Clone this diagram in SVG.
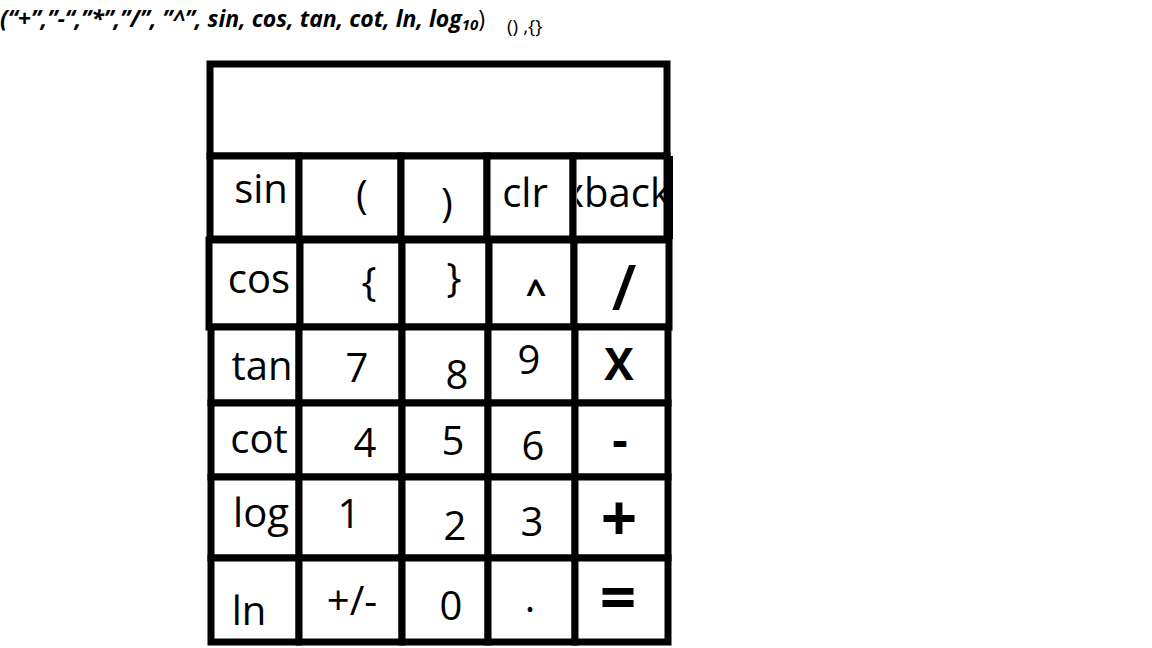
<svg xmlns="http://www.w3.org/2000/svg" width="1152" height="648" viewBox="0 0 1152 648">
<style>
.cell{fill:#fff;stroke:#000;stroke-width:7;stroke-linejoin:miter}
.t{font-family:"Open Sans","Liberation Sans",sans-serif;font-size:40px;fill:#000;text-anchor:middle}
.op{font-weight:bold}
.hdr{font-family:"Open Sans","Liberation Sans",sans-serif;fill:#000}
</style>
<defs>
<clipPath id="clipBack"><rect x="577" y="160" width="96" height="76"/></clipPath>
</defs>
<rect x="0" y="0" width="1152" height="648" fill="#fff"/>
<g id="header">
<text class="hdr" x="0" y="27" font-size="23" font-weight="bold" font-style="italic">(“+”,”-“,”*”,”/”, ”^”, sin, cos, tan, cot, ln, log<tspan font-size="15" dy="3">10</tspan><tspan dy="-3" font-style="normal" font-weight="normal">)</tspan></text>
<text class="hdr" x="507" y="33" font-size="19">() ,{}</text>
</g>
<g id="display"><rect class="cell" x="210" y="64" width="457" height="92"/></g>
<g id="connectors"></g>
<g id="btn-sin"><rect class="cell" x="210" y="156" width="89" height="83"/><text class="t" x="261" y="203">sin</text></g>
<g id="btn-lparen"><rect class="cell" x="299" y="156" width="102" height="83"/><text class="t" x="362" y="209">(</text></g>
<g id="btn-rparen"><rect class="cell" x="401" y="156" width="86" height="83"/><text class="t" x="447" y="217">)</text></g>
<g id="btn-clr"><rect class="cell" x="487" y="156" width="86" height="83"/><text class="t" x="525" y="207">clr</text></g>
<g id="btn-back"><rect class="cell" x="573" y="156" width="94" height="83"/><text class="t" x="617" y="207" clip-path="url(#clipBack)">xback</text><line x1="670" y1="156" x2="670" y2="239" stroke="#000" stroke-width="6"/></g>

<g id="btn-cos"><rect class="cell" x="209" y="240" width="91" height="87"/><text class="t" x="259" y="293">cos</text></g>
<g id="btn-lbrace"><rect class="cell" x="300" y="240" width="102" height="87"/><text class="t" x="369" y="296">{</text></g>
<g id="btn-rbrace"><rect class="cell" x="402" y="240" width="87" height="87"/><text class="t" x="454" y="292">}</text></g>
<g id="btn-pow"><rect class="cell" x="489" y="240" width="85" height="87"/><text class="t op" x="536" y="305" style="font-size:36px">^</text></g>
<g id="btn-div"><rect class="cell" x="574" y="240" width="95" height="87"/><text class="t" x="624" y="310" style="font-size:63px;font-weight:600">/</text></g>

<g id="btn-tan"><rect class="cell" x="211" y="327" width="88" height="76"/><text class="t" x="262" y="380">tan</text></g>
<g id="btn-7"><rect class="cell" x="299" y="327" width="103" height="76"/><text class="t" x="357" y="382">7</text></g>
<g id="btn-8"><rect class="cell" x="402" y="327" width="86" height="76"/><text class="t" x="457" y="389">8</text></g>
<g id="btn-9"><rect class="cell" x="488" y="327" width="87" height="76"/><text class="t" x="529" y="374">9</text></g>
<g id="btn-mul"><rect class="cell" x="575" y="327" width="93" height="76"/><text class="t op" x="619" y="380" style="font-size:44px">X</text></g>

<g id="btn-cot"><rect class="cell" x="211" y="403" width="88" height="74"/><text class="t" x="259" y="453">cot</text></g>
<g id="btn-4"><rect class="cell" x="299" y="403" width="103" height="74"/><text class="t" x="365" y="457">4</text></g>
<g id="btn-5"><rect class="cell" x="402" y="403" width="86" height="74"/><text class="t" x="453" y="455">5</text></g>
<g id="btn-6"><rect class="cell" x="488" y="403" width="87" height="74"/><text class="t" x="533" y="460">6</text></g>
<g id="btn-sub"><rect class="cell" x="575" y="403" width="93" height="74"/><text class="t op" x="620" y="457" style="font-size:48px">-</text></g>

<g id="btn-log"><rect class="cell" x="211" y="477" width="88" height="81"/><text class="t" x="261" y="527">log</text></g>
<g id="btn-1"><rect class="cell" x="299" y="477" width="103" height="81"/><text class="t" x="349" y="528">1</text></g>
<g id="btn-2"><rect class="cell" x="402" y="477" width="86" height="81"/><text class="t" x="455" y="540">2</text></g>
<g id="btn-3"><rect class="cell" x="488" y="477" width="87" height="81"/><text class="t" x="532" y="536">3</text></g>
<g id="btn-add"><rect class="cell" x="575" y="477" width="93" height="81"/><text class="t op" x="619" y="541" style="font-size:64px">+</text></g>

<g id="btn-ln"><rect class="cell" x="211" y="558" width="88" height="84"/><text class="t" x="249" y="625">ln</text></g>
<g id="btn-neg"><rect class="cell" x="299" y="558" width="103" height="84"/><text class="t" x="352" y="615">+/-</text></g>
<g id="btn-0"><rect class="cell" x="402" y="558" width="86" height="84"/><text class="t" x="451" y="620">0</text></g>
<g id="btn-dot"><rect class="cell" x="488" y="558" width="87" height="84"/><text class="t" x="530" y="612">.</text></g>
<g id="btn-eq"><rect class="cell" x="575" y="558" width="93" height="84"/><text class="t op" x="618" y="620" style="font-size:64px">=</text></g>
</svg>
